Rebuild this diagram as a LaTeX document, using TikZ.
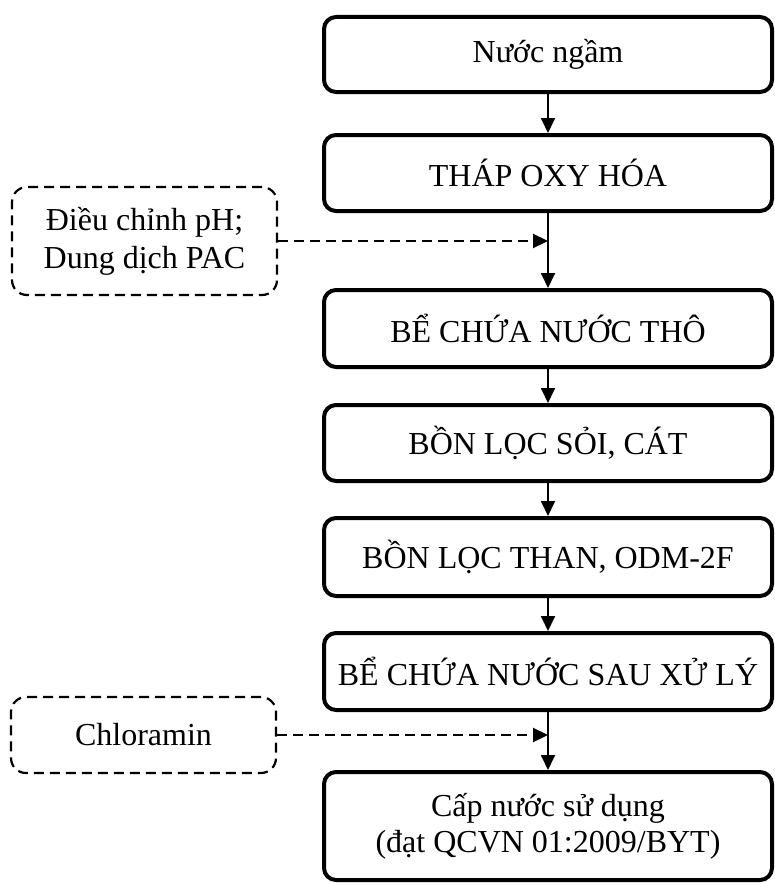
\documentclass[tikz,border=0pt]{standalone}
\usepackage{fontspec}
\setmainfont{Liberation Serif}
\usetikzlibrary{arrows.meta}
\begin{document}
\begin{tikzpicture}[x=1pt,y=-1pt,
  stage/.style={draw, line width=4pt, rounded corners=12pt, minimum width=448pt,
    inner sep=0pt, align=center, font=\fontsize{32}{36}\selectfont},
  additive/.style={draw, line width=2.2pt, dash pattern=on 10pt off 6pt, rounded corners=15pt,
    minimum width=265pt, inner sep=0pt, align=center, font=\fontsize{32}{38}\selectfont},
  flow/.style={line width=1.8pt, -{Triangle[length=15pt,width=14pt]}},
  dose/.style={line width=2.2pt, dash pattern=on 10pt off 6pt, -{Triangle[length=15pt,width=14pt]}}]
\useasboundingbox (0,0) rectangle (774,883);

% treatment stages
\node[stage, minimum height=75pt] (b1) at (548,54.5) {Nước ngầm};
\node[stage, minimum height=76pt] (b2) at (548,173) {THÁP OXY HÓA};
\node[stage, minimum height=77pt] (b3) at (548,328.5) {BỂ CHỨA NƯỚC THÔ};
\node[stage, minimum height=76pt] (b4) at (548,443) {BỒN LỌC SỎI, CÁT};
\node[stage, minimum height=78pt] (b5) at (548,557) {BỒN LỌC THAN, ODM-2F};
\node[stage, minimum height=77pt] (b6) at (548,671.5) {BỂ CHỨA NƯỚC SAU XỬ LÝ};
\node[stage, minimum height=108pt] (b7) at (548,826) {Cấp nước sử dụng\\(đạt QCVN 01:2009/BYT)};

% chemical dosing
\node[additive, minimum height=108pt] (d1) at (144.5,241) {Điều chỉnh pH;\\Dung dịch PAC};
\node[additive, minimum height=76pt] (d2) at (143.5,735) {Chloramin};

% main flow
\draw[flow] (b1) -- (b2);
\draw[flow] (b2) -- (b3);
\draw[flow] (b3) -- (b4);
\draw[flow] (b4) -- (b5);
\draw[flow] (b5) -- (b6);
\draw[flow] (b6) -- (b7);

% dosing points
\coordinate (j1) at (d1.east -| b2.south);
\coordinate (j2) at (d2.east -| b6.south);
\draw[dose] (d1.east) -- (j1);
\draw[dose] (d2.east) -- (j2);
\end{tikzpicture}
\end{document}
